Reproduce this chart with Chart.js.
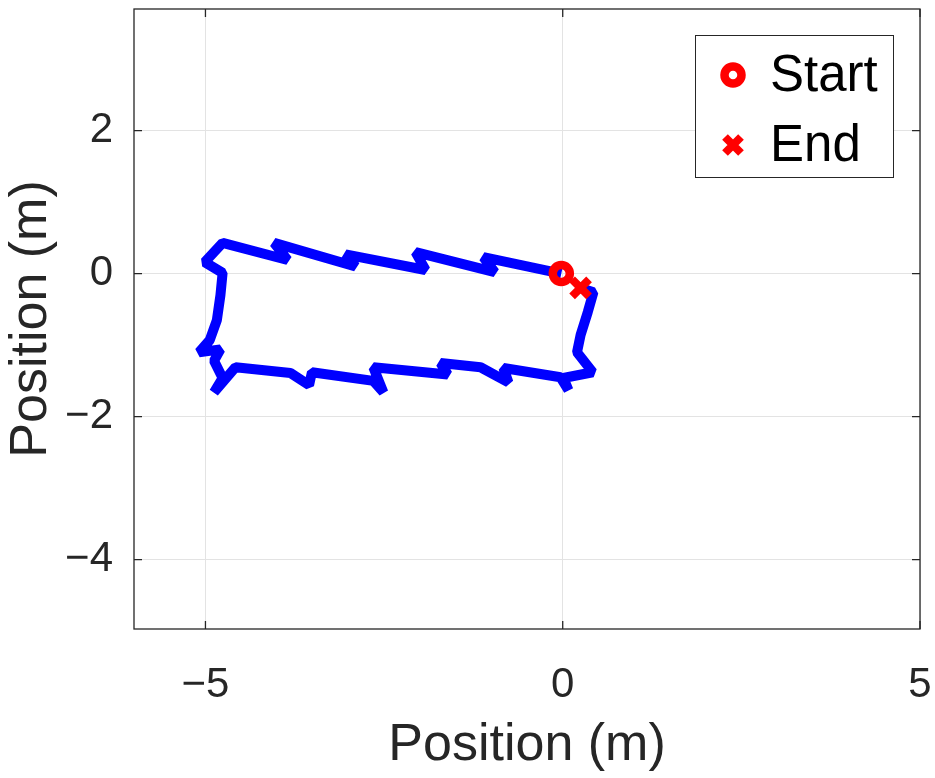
<!DOCTYPE html>
<html>
<head>
<meta charset="utf-8">
<script src="https://cdn.jsdelivr.net/npm/chart.js@4.4.1/dist/chart.umd.min.js"></script>
<style>
  html, body { margin: 0; padding: 0; background: #fff; }
  canvas { display: block; }
</style>
</head>
<body>
<canvas id="trajChart" width="935" height="778"></canvas>
<script>
// trajectory (metres)
var pathX = [-0.02, -1.11, -0.95, -2.06, -1.92, -3.04, -2.90, -4.04, -3.85, -4.76,
             -5.01, -4.76, -4.79, -4.84, -4.94, -5.09, -4.79, -4.88, -4.76, -4.88,
             -4.58, -3.81, -3.55, -3.51, -2.65, -2.51, -2.65, -1.61, -1.71, -1.15,
             -0.76, -0.83, -0.03, 0.08, 0.01, 0.42, 0.20, 0.25, 0.35, 0.43, 0.25];
var pathY = [0.00, 0.23, 0.02, 0.30, 0.05, 0.27, 0.10, 0.43, 0.19, 0.43,
             0.16, 0.01, -0.30, -0.65, -0.93, -1.10, -1.06, -1.22, -1.46, -1.66,
             -1.31, -1.39, -1.56, -1.38, -1.50, -1.66, -1.31, -1.41, -1.25, -1.31,
             -1.52, -1.32, -1.45, -1.63, -1.46, -1.38, -1.10, -0.86, -0.54, -0.26, -0.20];
var startPoint = [-0.02, 0.00];
var endPoint = [0.25, -0.20];

var xTicks = [-5, 0, 5];
var xTickLabels = ['\u22125', '0', '5'];
var yTicks = [-4, -2, 0, 2];
var yTickLabels = ['\u22124', '\u22122', '0', '2'];
var xLimits = [-6, 5];
var yLimits = [-4.97, 3.7];
var legendLabels = ['Start', 'End'];

var FONT = "'Liberation Sans', Arial, sans-serif";
var AXIS_COLOR = '#262626';

var pathData = pathX.map(function (x, i) { return { x: x, y: pathY[i] }; });

// draws the MATLAB style box, inward ticks and the legend
var boxPlugin = {
  id: 'matlabBox',
  afterDraw: function (chart) {
    var ctx = chart.ctx;
    var a = chart.chartArea;
    var xs = chart.scales.x, ys = chart.scales.y;
    var tl = 8;
    ctx.save();
    ctx.strokeStyle = AXIS_COLOR;
    ctx.lineWidth = 1.3;
    ctx.strokeRect(a.left, a.top, a.right - a.left, a.bottom - a.top);
    ctx.beginPath();
    xTicks.forEach(function (v) {
      var px = xs.getPixelForValue(v);
      ctx.moveTo(px, a.bottom); ctx.lineTo(px, a.bottom - tl);
      ctx.moveTo(px, a.top); ctx.lineTo(px, a.top + tl);
    });
    yTicks.forEach(function (v) {
      var py = ys.getPixelForValue(v);
      ctx.moveTo(a.left, py); ctx.lineTo(a.left + tl, py);
      ctx.moveTo(a.right, py); ctx.lineTo(a.right - tl, py);
    });
    ctx.stroke();

    // legend
    var lw = 198, lh = 142;
    var lx = a.right - 225, ly = a.top + 26;
    ctx.fillStyle = '#fff';
    ctx.fillRect(lx, ly, lw, lh);
    ctx.lineWidth = 1;
    ctx.strokeStyle = AXIS_COLOR;
    ctx.strokeRect(lx + 0.5, ly + 0.5, lw, lh);

    var mx = lx + 38;
    var y1 = ly + 40, y2 = ly + 110;
    ctx.strokeStyle = '#ff0000';
    ctx.lineWidth = 8.5;
    ctx.beginPath();
    ctx.arc(mx, y1, 8.5, 0, Math.PI * 2);
    ctx.stroke();
    ctx.lineWidth = 8;
    ctx.beginPath();
    var d = 8;
    ctx.moveTo(mx - d, y2 - d); ctx.lineTo(mx + d, y2 + d);
    ctx.moveTo(mx + d, y2 - d); ctx.lineTo(mx - d, y2 + d);
    ctx.stroke();

    ctx.fillStyle = '#000';
    ctx.font = '51px ' + FONT;
    ctx.textBaseline = 'middle';
    ctx.textAlign = 'left';
    ctx.fillText(legendLabels[0], lx + 75, y1 + 2);
    ctx.fillText(legendLabels[1], lx + 75, y2 + 2);
    ctx.restore();
  }
};

var ctx = document.getElementById('trajChart').getContext('2d');
var myChart = new Chart(ctx, {
  type: 'scatter',
  data: {
    datasets: [{
      label: legendLabels[0],
      data: [{ x: startPoint[0], y: startPoint[1] }],
      pointStyle: 'circle',
      pointRadius: 8.5,
      pointBorderWidth: 8.5,
      pointBorderColor: '#ff0000',
      pointBackgroundColor: 'rgba(0,0,0,0)',
      order: 0
    }, {
      label: legendLabels[1],
      data: [{ x: endPoint[0], y: endPoint[1] }],
      pointStyle: 'crossRot',
      pointRadius: 12,
      pointBorderWidth: 8,
      pointBorderColor: '#ff0000',
      order: 0
    }, {
      label: 'path',
      data: pathData,
      showLine: true,
      borderColor: '#0000ff',
      borderWidth: 10,
      borderJoinStyle: 'bevel',
      pointRadius: 0,
      order: 1
    }]
  },
  options: {
    responsive: false,
    animation: false,
    events: [],
    layout: { autoPadding: false, padding: { top: 9, right: 15, left: 0, bottom: 0 } },
    plugins: {
      legend: { display: false },
      tooltip: { enabled: false }
    },
    scales: {
      x: {
        type: 'linear',
        min: xLimits[0],
        max: xLimits[1],
        afterBuildTicks: function (s) { s.ticks = xTicks.map(function (v) { return { value: v }; }); },
        afterFit: function (s) { s.height = 149; s.paddingLeft = 0; s.paddingRight = 0; },
        grid: { color: '#e3e3e3', lineWidth: 1, drawTicks: false },
        border: { display: false },
        ticks: {
          padding: 31,
          color: AXIS_COLOR,
          font: { family: FONT, size: 42 },
          maxRotation: 0,
          callback: function (value, i) { return xTickLabels[i]; }
        },
        title: {
          display: true,
          text: 'Position (m)',
          color: AXIS_COLOR,
          font: { family: FONT, size: 52 },
          padding: { top: 0, bottom: 1 }
        }
      },
      y: {
        type: 'linear',
        min: yLimits[0],
        max: yLimits[1],
        afterBuildTicks: function (s) { s.ticks = yTicks.map(function (v) { return { value: v }; }); },
        afterFit: function (s) { s.width = 134; s.paddingTop = 0; s.paddingBottom = 0; },
        grid: { color: '#e3e3e3', lineWidth: 1, drawTicks: false },
        border: { display: false },
        ticks: {
          padding: 21,
          color: AXIS_COLOR,
          font: { family: FONT, size: 42 },
          callback: function (value, i) { return yTickLabels[i]; }
        },
        title: {
          display: true,
          text: 'Position (m)',
          color: AXIS_COLOR,
          font: { family: FONT, size: 52 },
          padding: { top: 0, bottom: 0 }
        }
      }
    }
  },
  plugins: [boxPlugin]
});
</script>
</body>
</html>
